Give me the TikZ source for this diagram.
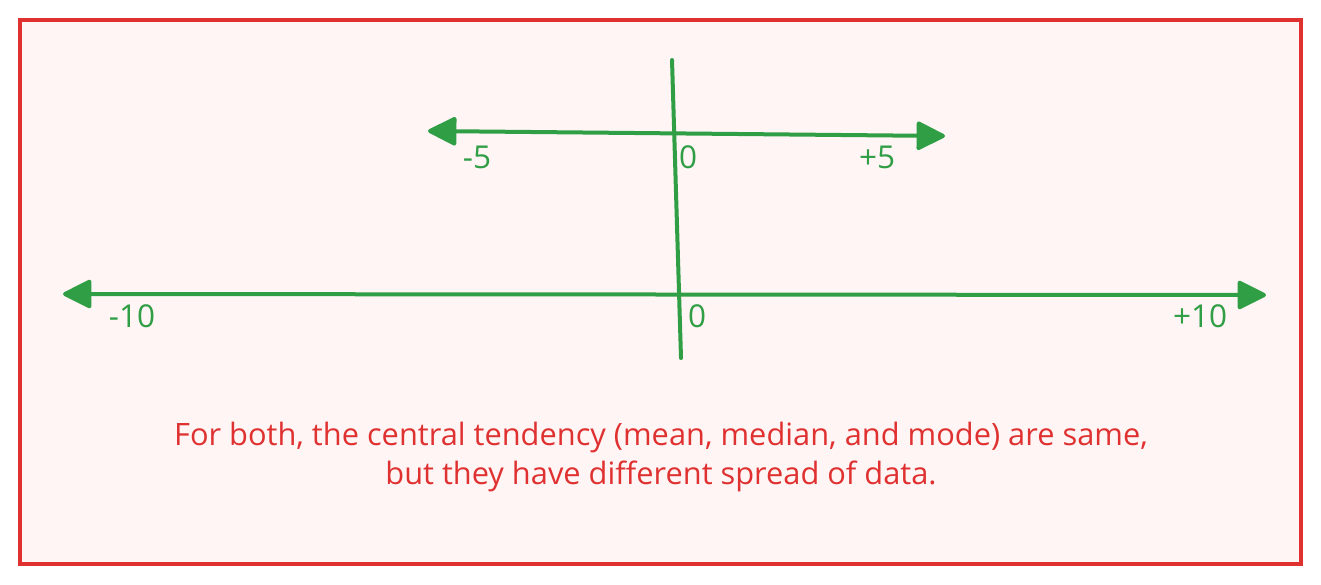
\documentclass[tikz,border=0pt]{standalone}
\usepackage{fontspec}
\setmainfont{Open Sans}
\usetikzlibrary{arrows.meta}
\definecolor{gline}{HTML}{2F9E44}
\definecolor{rline}{HTML}{E03131}
\definecolor{rfill}{HTML}{FFF5F5}
\tikzset{
  frame/.style={draw=rline, line width=4pt, fill=rfill},
  axis/.style={draw=gline, line width=4pt, line cap=round, line join=round},
  haxis/.style={axis, {Triangle[length=31pt,width=30pt,round]}-{Triangle[length=31pt,width=30pt,round]}},
  lbl/.style={text=gline, font=\fontsize{31.5}{36}\selectfont, inner sep=0pt, anchor=center},
  note/.style={text=rline, font=\fontsize{30.8}{39}\selectfont, align=center, inner sep=0pt}
}
\begin{document}
\begin{tikzpicture}[x=1pt,y=-1pt]
\useasboundingbox (0,0) rectangle (1321,584);
\draw[frame] (20,20) rectangle (1301,564);
% top axis
\coordinate (tl) at (428,131);
\coordinate (tr) at (945,136);
\draw[haxis] (tl) -- (tr);
% bottom axis
\coordinate (bl) at (63,294);
\coordinate (br) at (1266,295);
\draw[haxis] (bl) -- (br);
% vertical axis
\coordinate (vt) at (672,60);
\coordinate (vb) at (681,358);
\draw[axis] (vt) -- (vb);
% labels
\node[lbl] (m5) at (477,157) {-5};
\node[lbl] (z1) at (688,157) {0};
\node[lbl] (p5) at (877,157) {+5};
\node[lbl] (m10) at (132,316) {-10};
\node[lbl] (z2) at (697,316) {0};
\node[lbl] (p10) at (1200,316) {+10};
\node[note] (txt) at (661,457) {For both, the central tendency (mean, median, and mode) are same,\\but they have different spread of data.};
\end{tikzpicture}
\end{document}
